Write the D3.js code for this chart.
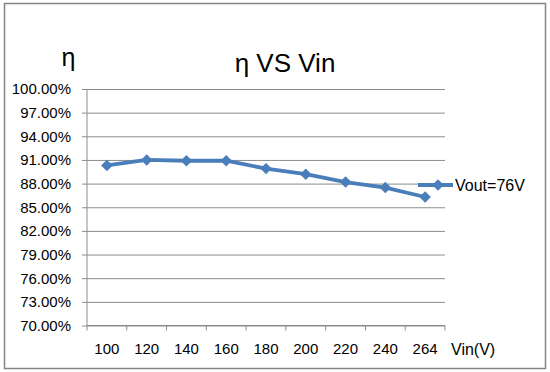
<!DOCTYPE html>
<html>
<head>
<meta charset="utf-8">
<script src="https://cdn.jsdelivr.net/npm/d3@7"></script>
<style>
    body { margin: 0; background: #fff; }
    text { font-family: "Liberation Sans", Arial, sans-serif; fill: #000; }
</style>
</head>
<body>
<svg id="chart" width="550" height="372"></svg>
<script>
// data
const vinLabels = ["100", "120", "140", "160", "180", "200", "220", "240", "264"];
const efficiency = [0.903, 0.910, 0.909, 0.909, 0.899, 0.892, 0.882, 0.875, 0.863];
const yTicks = [0.70, 0.73, 0.76, 0.79, 0.82, 0.85, 0.88, 0.91, 0.94, 0.97, 1.00];
const seriesName = "Vout=76V";

const blue = "#4a7ebb";
const gridColor = "#8c8c8c";

let svg = d3.select("#chart");

// outer frame
svg.append("rect")
    .attr("x", 4.5).attr("y", 3.5)
    .attr("width", 541).attr("height", 365)
    .attr("fill", "#fff")
    .attr("stroke", "#858585")
    .attr("stroke-width", 1.5);

let plot = {left: 87, right: 445, top: 89, bottom: 325.5};

let xScale = d3.scaleBand()
    .domain(vinLabels)
    .range([plot.left, plot.right])
    .padding(0);

let yScale = d3.scaleLinear()
    .domain([0.70, 1.00])
    .range([plot.bottom, plot.top]);

let fmt = d3.format(".2%");

// gridlines + y axis
let yAxis = d3.axisLeft(yScale)
    .tickValues(yTicks)
    .tickFormat(fmt)
    .tickSize(-(plot.right - plot.left))
    .tickPadding(16);

let gy = svg.append("g")
    .attr("transform", "translate(" + plot.left + ",0)")
    .call(yAxis);
gy.select(".domain").remove();
gy.selectAll(".tick line")
    .attr("x1", -5)
    .attr("stroke", gridColor)
    .attr("stroke-width", 1);
gy.selectAll(".tick text")
    .attr("font-size", 15)
    .attr("font-family", "Liberation Sans, Arial, sans-serif")
    .attr("fill", "#000");

// left axis line
svg.append("line")
    .attr("x1", plot.left).attr("x2", plot.left)
    .attr("y1", plot.top).attr("y2", plot.bottom)
    .attr("stroke", gridColor);

// bottom axis: Excel puts the ticks between categories
let edges = vinLabels.map(d => xScale(d)).concat([plot.right]);
svg.append("line")
    .attr("x1", plot.left).attr("x2", plot.right)
    .attr("y1", plot.bottom).attr("y2", plot.bottom)
    .attr("stroke", gridColor);
svg.append("g").selectAll("line")
    .data(edges)
    .enter().append("line")
    .attr("x1", d => d).attr("x2", d => d)
    .attr("y1", plot.bottom).attr("y2", plot.bottom + 5)
    .attr("stroke", gridColor);

svg.append("g").selectAll("text")
    .data(vinLabels)
    .enter().append("text")
    .attr("x", d => xScale(d) + xScale.bandwidth() / 2)
    .attr("y", 354)
    .attr("text-anchor", "middle")
    .attr("font-size", 15)
    .text(d => d);

// axis titles
svg.append("text")
    .attr("x", 451).attr("y", 355)
    .attr("font-size", 16)
    .text("Vin(V)");

svg.append("text")
    .attr("x", 68.5).attr("y", 66)
    .attr("text-anchor", "middle")
    .attr("font-size", 25)
    .text("η");

// chart title
svg.append("text")
    .attr("x", 285).attr("y", 72)
    .attr("text-anchor", "middle")
    .attr("font-size", 26)
    .text("η VS Vin");

// series line
let cx = (d, i) => xScale(vinLabels[i]) + xScale.bandwidth() / 2;

let line = d3.line()
    .x((d, i) => cx(d, i))
    .y(d => yScale(d));

svg.append("path")
    .datum(efficiency)
    .attr("d", line)
    .attr("fill", "none")
    .attr("stroke", blue)
    .attr("stroke-width", 3.8)
    .attr("stroke-linejoin", "round");

let diamond = d3.symbol().type(d3.symbolSquare).size(66);

svg.append("g").selectAll("path")
    .data(efficiency)
    .enter().append("path")
    .attr("d", diamond)
    .attr("transform", (d, i) => "translate(" + cx(d, i) + "," + yScale(d) + ") rotate(45)")
    .attr("fill", blue);

// legend
let legend = svg.append("g").attr("transform", "translate(418,185)");
legend.append("line")
    .attr("x1", 0).attr("x2", 35)
    .attr("stroke", blue)
    .attr("stroke-width", 3.8);
legend.append("path")
    .attr("d", diamond)
    .attr("transform", "translate(20,0) rotate(45)")
    .attr("fill", blue);
legend.append("text")
    .attr("x", 37).attr("y", 0)
    .attr("dy", "0.35em")
    .attr("font-size", 16)
    .text(seriesName);
</script>
</body>
</html>
